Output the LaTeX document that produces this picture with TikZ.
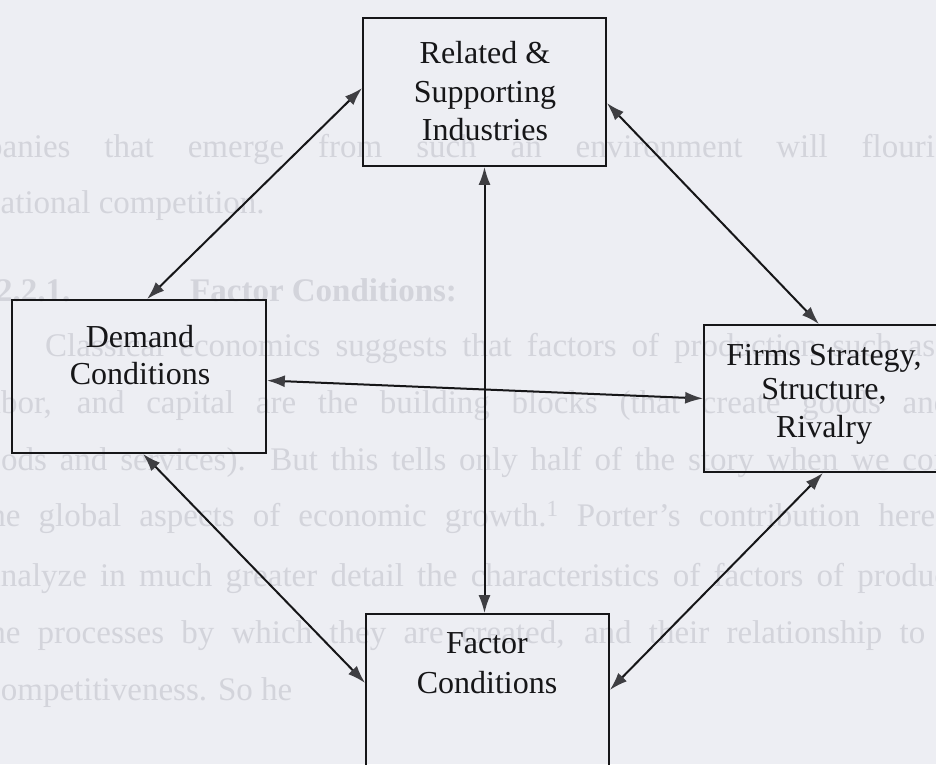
\documentclass[tikz,border=0pt]{standalone}
\usepackage{fontspec}
\setmainfont{Liberation Serif}
\usetikzlibrary{arrows.meta}
\definecolor{paper}{RGB}{237,238,243}
\definecolor{ghost}{RGB}{211,212,219}
\definecolor{tipgray}{RGB}{62,62,66}
\definecolor{ink}{RGB}{22,22,24}
\tikzset{
  box/.style={draw=ink, line width=1.7pt, inner sep=0pt},
  lbl/.style={inner sep=0pt, anchor=base, text=ink, font=\fontsize{32}{38}\selectfont},
  ghosttext/.style={inner sep=0pt, anchor=base west, text=ghost, font=\fontsize{33}{40}\selectfont},
  link/.style={draw=ink, line width=2pt,
    {Latex[length=18pt,width=12pt,color=tipgray]}-{Latex[length=18pt,width=12pt,color=tipgray]}}
}
\begin{document}
\begin{tikzpicture}[x=1pt,y=-1pt]
\useasboundingbox (0,0) rectangle (936,764);
\clip (0,0) rectangle (936,764);
\fill[paper] (0,0) rectangle (936,764);
% faint text of the scanned page
\node[ghosttext] (g1) at (-14,157) {\makebox[978pt][s]{panies that emerge from such an environment will flourish}};
\node[ghosttext] (g2) at (-16,213) {national competition.};
\node[ghosttext, font=\fontsize{33}{40}\selectfont\bfseries] (g3a) at (-4,301) {2.2.1.};
\node[ghosttext, font=\fontsize{33}{40}\selectfont\bfseries] (g3b) at (190,301) {Factor Conditions:};
\node[ghosttext] (g4) at (45,356) {\makebox[890pt][s]{Classical economics suggests that factors of production such as}};
\node[ghosttext] (g5) at (-23,413) {\makebox[973pt][s]{labor, and capital are the building blocks (that create goods and}};
\node[ghosttext] (g6) at (-32,470) {\makebox[1046pt][s]{goods and services). But this tells only half of the story when we consider}};
\node[ghosttext] (g7) at (-20,526) {\makebox[955pt][s]{the global aspects of economic growth.\textsuperscript{1} Porter's contribution here}};
\node[ghosttext] (g8) at (-14,586) {\makebox[1014pt][s]{analyze in much greater detail the characteristics of factors of production}};
\node[ghosttext] (g9) at (-20,643) {\makebox[945pt][s]{the processes by which they are created, and their relationship to}};
\node[ghosttext] (g10) at (-14,700) {competitiveness. So he};
% boxes
\node[box, minimum width=243pt, minimum height=148pt] (rel) at (484.5,92) {};
\node[box, minimum width=254pt, minimum height=153pt] (dem) at (139,376.5) {};
\node[box, minimum width=238pt, minimum height=147pt] (firm) at (823,398.5) {};
\node[box, minimum width=243pt, minimum height=152pt] (fac) at (487.5,690) {};
% labels
\node[lbl] (relA) at (485,63) {Related \&};
\node[lbl] (relB) at (485,102) {Supporting};
\node[lbl] (relC) at (485,140) {Industries};
\node[lbl] (demA) at (140,347) {Demand};
\node[lbl] (demB) at (140,384) {Conditions};
\node[lbl] (firmA) at (824,365) {Firms Strategy,};
\node[lbl] (firmB) at (824,399) {Structure,};
\node[lbl] (firmC) at (824,437) {Rivalry};
\node[lbl] (facA) at (487,653) {Factor};
\node[lbl] (facB) at (487,693) {Conditions};
% connectors
\draw[link] ([yshift=4pt]rel.west) -- ([xshift=8pt]dem.north);
\draw[link] ([yshift=-11pt]rel.east) -- ([xshift=-4pt]firm.north);
\draw[link] (rel.south) -- (rel.south |- fac.north);
\draw[link] ([yshift=-4pt]dem.east) -- (firm.west);
\draw[link] ([xshift=4pt]dem.south) -- ([yshift=7pt]fac.west);
\draw[link] (firm.south) -- (fac.east);
\end{tikzpicture}
\end{document}
